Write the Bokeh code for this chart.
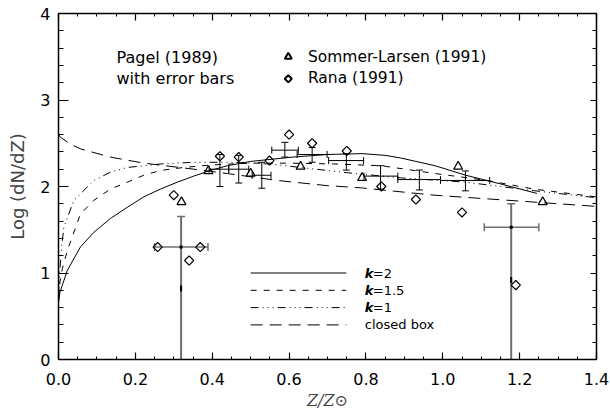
import numpy as np
from bokeh.plotting import figure
from bokeh.models import (Range1d, LinearAxis, FixedTicker, PrintfTickFormatter,
                          ColumnDataSource, Whisker, TeeHead)
from bokeh.core.properties import value
from bokeh.embed import file_html
from bokeh.resources import INLINE

# ---------------- model curves ----------------
k2_x = [0.0, 0.004, 0.010, 0.023, 0.057, 0.092, 0.135, 0.179, 0.222, 0.265, 0.309, 0.352, 0.395,
        0.439, 0.50, 0.61, 0.70, 0.79, 0.85, 0.89, 0.93, 0.98, 1.06, 1.15, 1.245]
k2_y = [0.66, 0.78, 0.86, 1.03, 1.30, 1.47, 1.63, 1.76, 1.88, 1.97, 2.05, 2.12, 2.185,
        2.24, 2.29, 2.34, 2.37, 2.38, 2.36, 2.33, 2.29, 2.24, 2.13, 2.03, 1.92]

k15_x = [0.0, 0.004, 0.010, 0.023, 0.057, 0.092, 0.135, 0.179, 0.222, 0.265, 0.326, 0.40, 0.50,
         0.60, 0.72, 0.84, 0.98, 1.115, 1.237, 1.40]
k15_y = [0.72, 0.90, 1.05, 1.26, 1.68, 1.84, 1.97, 2.05, 2.13, 2.185, 2.22, 2.25, 2.27,
         2.27, 2.26, 2.24, 2.15, 2.07, 1.97, 1.88]

k1_x = [0.0, 0.003, 0.008, 0.014, 0.04, 0.092, 0.135, 0.179, 0.265, 0.352, 0.45, 0.55, 0.63,
        0.75, 0.89, 1.06, 1.24, 1.40]
k1_y = [0.75, 1.00, 1.30, 1.53, 1.84, 2.07, 2.165, 2.22, 2.26, 2.28, 2.28, 2.26, 2.22,
        2.16, 2.10, 2.05, 1.95, 1.87]

cb_x = [0.0, 0.005, 0.031, 0.057, 0.135, 0.222, 0.352, 0.439, 0.569, 0.699, 0.786, 0.977, 1.237, 1.40]
cb_y = [2.60, 2.57, 2.49, 2.435, 2.34, 2.27, 2.20, 2.15, 2.07, 2.01, 1.985, 1.90, 1.82, 1.77]

# ---------------- data points ----------------
sl_x = [0.32, 0.39, 0.50, 0.63, 0.79, 1.04, 1.26]          # Sommer-Larsen (1991)
sl_y = [1.82, 2.18, 2.15, 2.23, 2.10, 2.23, 1.82]

rana_x = [0.258, 0.30, 0.34, 0.369, 0.42, 0.469, 0.549, 0.60, 0.66, 0.75, 0.84, 0.93, 1.05, 1.19]
rana_y = [1.30, 1.90, 1.145, 1.30, 2.35, 2.34, 2.30, 2.60, 2.50, 2.41, 2.00, 1.85, 1.70, 0.86]

# Pagel (1989) binned values with error bars (black)
pg_x   = [0.42, 0.469, 0.529, 0.589, 0.660, 0.749, 0.838, 0.939, 1.059]
pg_y   = [2.20, 2.20, 2.13, 2.42, 2.37, 2.30, 2.12, 2.08, 2.07]
pg_xlo = [0.392, 0.443, 0.504, 0.555, 0.621, 0.703, 0.795, 0.883, 0.994]
pg_xhi = [0.443, 0.495, 0.553, 0.624, 0.699, 0.794, 0.883, 0.994, 1.122]
pg_ylo = [2.00, 2.04, 1.98, 2.34, 2.28, 2.19, 1.97, 1.96, 1.95]
pg_yhi = [2.37, 2.36, 2.28, 2.51, 2.45, 2.38, 2.24, 2.19, 2.18]

# Pagel (1989) large-error bins (grey)
pgg_x   = [0.319, 1.178]
pgg_y   = [1.30, 1.53]
pgg_xlo = [0.250, 1.108]
pgg_xhi = [0.389, 1.250]
pgg_ylo = [0.0, 0.0]
pgg_yhi = [1.653, 1.80]
pgg_mark_y = [0.82, 0.92]

# ticks
x_ticks = [0.0, 0.2, 0.4, 0.6, 0.8, 1.0, 1.2, 1.4]
x_minor = [round(0.05 * i, 2) for i in range(29)]
y_ticks = [0, 1, 2, 3, 4]
y_minor = [round(0.2 * i, 1) for i in range(21)]

# legend / annotation texts
legend_labels = ["2", "1.5", "1", "closed box"]
legend_dash = ["solid", "6 7", "8 4 1 4 1 4 1 4", "12 7"]

FONT = "DejaVu Sans"
SERIF = "DejaVu Serif"

p = figure(frame_width=538, frame_height=346, x_range=Range1d(0, 1.4), y_range=Range1d(0, 4),
           output_backend="svg", toolbar_location=None,
           min_border_left=58, min_border_right=14, min_border_top=13, min_border_bottom=54)
p.xgrid.visible = False
p.ygrid.visible = False
p.outline_line_color = None
p.background_fill_color = "white"
p.border_fill_color = "white"

def style_axis(ax, maj, mino, labels=True):
    ax.major_tick_in = maj
    ax.major_tick_out = 0
    ax.minor_tick_in = mino
    ax.minor_tick_out = 0
    ax.axis_line_color = "black"
    ax.axis_line_width = 1.5
    ax.major_tick_line_color = "black"
    ax.minor_tick_line_color = "black"
    ax.major_tick_line_width = 1.2
    ax.minor_tick_line_width = 1
    if labels:
        ax.major_label_text_font = FONT
        ax.major_label_text_font_size = "16px"
        ax.major_label_text_color = "black"
    else:
        ax.major_label_text_color = None
        ax.major_label_standoff = 0

p.xaxis.ticker = FixedTicker(ticks=x_ticks, minor_ticks=x_minor)
p.yaxis.ticker = FixedTicker(ticks=y_ticks, minor_ticks=y_minor)
p.xaxis.formatter = PrintfTickFormatter(format="%.1f")
p.yaxis.formatter = PrintfTickFormatter(format="%d")
style_axis(p.xaxis[0], 7, 3)
style_axis(p.yaxis[0], 10, 5)
p.xaxis.major_label_standoff = 13
p.yaxis.major_label_standoff = 8

p.xaxis.axis_label = "Z/Z⊙"
p.xaxis.axis_label_text_font = SERIF
p.xaxis.axis_label_text_font_style = "italic"
p.xaxis.axis_label_text_font_size = "16px"
p.xaxis.axis_label_standoff = 3
p.yaxis.axis_label = "Log (dN/dZ)"
p.yaxis.axis_label_text_font = FONT
p.yaxis.axis_label_text_font_style = "normal"
p.yaxis.axis_label_text_font_size = "18px"
p.yaxis.axis_label_standoff = 9

top = LinearAxis(ticker=FixedTicker(ticks=x_ticks, minor_ticks=x_minor))
right = LinearAxis(ticker=FixedTicker(ticks=y_ticks, minor_ticks=y_minor))
style_axis(top, 7, 3, labels=False)
style_axis(right, 6, 4, labels=False)
p.add_layout(top, "above")
p.add_layout(right, "right")

# model curves
p.line(k2_x, k2_y, line_color="black", line_width=1)
p.line(k15_x, k15_y, line_color="black", line_width=1, line_dash=legend_dash[1])
p.line(k1_x, k1_y, line_color="black", line_width=1, line_dash=legend_dash[2])
p.line(cb_x, cb_y, line_color="black", line_width=1, line_dash=legend_dash[3])

# error bars
src_b = ColumnDataSource(dict(x=pg_x, y=pg_y, xlo=pg_xlo, xhi=pg_xhi, ylo=pg_ylo, yhi=pg_yhi))
p.add_layout(Whisker(source=src_b, base="x", lower="ylo", upper="yhi", dimension="height",
                     line_color="black", line_width=1,
                     upper_head=TeeHead(size=7, line_color="black", line_width=1),
                     lower_head=TeeHead(size=7, line_color="black", line_width=1)))
p.add_layout(Whisker(source=src_b, base="y", lower="xlo", upper="xhi", dimension="width",
                     line_color="black", line_width=1,
                     upper_head=TeeHead(size=7, line_color="black", line_width=1),
                     lower_head=TeeHead(size=7, line_color="black", line_width=1)))

GREY = "#6f6f6f"
src_g = ColumnDataSource(dict(x=pgg_x, y=pgg_y, xlo=pgg_xlo, xhi=pgg_xhi, ylo=pgg_ylo, yhi=pgg_yhi))
p.add_layout(Whisker(source=src_g, base="x", lower="ylo", upper="yhi", dimension="height",
                     line_color=GREY, line_width=2,
                     upper_head=TeeHead(size=8, line_color=GREY, line_width=1.5),
                     lower_head=None))
p.add_layout(Whisker(source=src_g, base="y", lower="xlo", upper="xhi", dimension="width",
                     line_color=GREY, line_width=1.5,
                     upper_head=TeeHead(size=8, line_color=GREY, line_width=1.5),
                     lower_head=TeeHead(size=8, line_color=GREY, line_width=1.5)))
p.rect(pgg_x, pgg_y, width=3, height=3, width_units="screen", height_units="screen",
       fill_color="black", line_color=None)
p.rect(pgg_x, pgg_mark_y, width=2, height=6, width_units="screen", height_units="screen",
       fill_color="black", line_color=None)

# symbols
p.scatter(sl_x, sl_y, marker="triangle", size=9, fill_color=None, line_color="black", line_width=1.2)
p.scatter(rana_x, rana_y, marker="square", angle=np.pi / 4, size=6.5, fill_color=None,
          line_color="black", line_width=1.2)

# top-left annotations
p.text([0.151, 0.151], [3.495, 3.249], text=["Pagel (1989)", "with error bars"],
       text_font=value(FONT), text_font_size="16px", text_color="black",
       text_baseline="alphabetic")
p.scatter([0.598], [3.50], marker="triangle", size=7, fill_color=None, line_color="black", line_width=2)
p.scatter([0.598], [3.245], marker="square", angle=np.pi / 4, size=5, fill_color=None,
          line_color="black", line_width=2)
p.text([0.649, 0.649], [3.495, 3.249], text=["Sommer-Larsen (1991)", "Rana (1991)"],
       text_font=value(FONT), text_font_size="15.5px", text_color="black",
       text_baseline="alphabetic")

# line legend
leg_x0, leg_x1, leg_tx = 0.50, 0.749, 0.797
leg_rows = [1.0, 0.8, 0.6, 0.4]
for i, (lab, dash) in enumerate(zip(legend_labels, legend_dash)):
    yy = leg_rows[i]
    p.line([leg_x0, leg_x1], [yy, yy], line_color="black", line_width=1, line_dash=dash)
    if lab == "closed box":
        p.text([leg_tx], [yy], text=[lab], text_font=value(FONT), text_font_size="13px",
               text_baseline="middle", text_color="black")
    else:
        p.text([leg_tx], [yy], text=["k"], text_font=value(FONT), text_font_size="13px",
               text_font_style="bold italic", text_baseline="middle", text_color="black")
        p.text([leg_tx], [yy], text=["=" + lab], text_font=value(FONT), text_font_size="13px",
               text_baseline="middle", text_color="black", x_offset=8)

open("out.html", "w").write(file_html(p, INLINE))
